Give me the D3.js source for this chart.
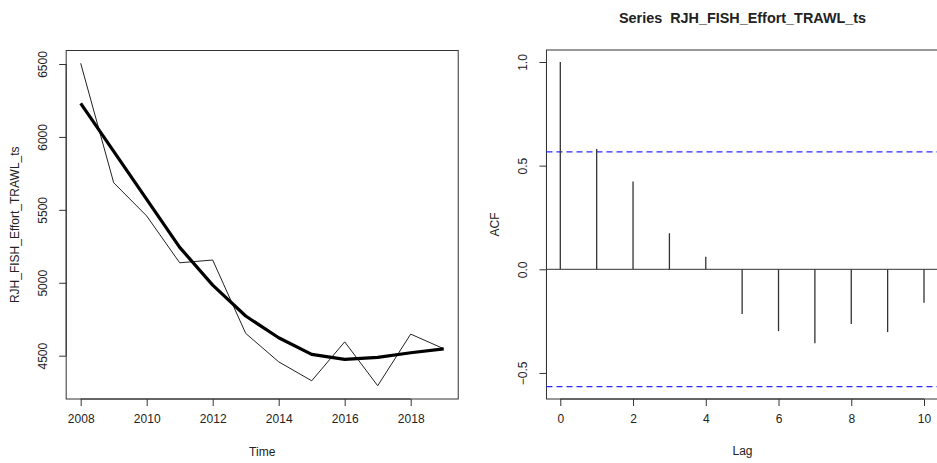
<!DOCTYPE html>
<html>
<head>
<meta charset="utf-8">
<script src="https://cdn.jsdelivr.net/npm/d3@7"></script>
<style>
  html, body { margin: 0; padding: 0; background: #fff; }
  svg { display: block; }
  text { font-family: "Liberation Sans", Arial, sans-serif; fill: #222; }
</style>
</head>
<body>
<svg id="chart" width="937" height="463"></svg>
<script>
// ---- Data ----
const years = [2008, 2009, 2010, 2011, 2012, 2013, 2014, 2015, 2016, 2017, 2018, 2019];
const effort = [6505, 5686, 5458, 5137, 5156, 4653, 4458, 4328, 4595, 4294, 4648, 4548];
const smoothed = [6230, 5901, 5572, 5243, 4984, 4772, 4623, 4509, 4475, 4488, 4520, 4547];
const yearTicks = [2008, 2010, 2012, 2014, 2016, 2018];
const effortTicks = [4500, 5000, 5500, 6000, 6500];

const lags = [0, 1, 2, 3, 4, 5, 6, 7, 8, 9, 10];
const acfValues = [1.0, 0.580, 0.423, 0.174, 0.061, -0.216, -0.298, -0.357, -0.264, -0.303, -0.161];
const ciLevel = 0.566;
const lagTicks = [0, 2, 4, 6, 8, 10];
const acfTicks = [-0.5, 0.0, 0.5, 1.0];

const seriesName = "RJH_FISH_Effort_TRAWL_ts";

const svg = d3.select("#chart");
const frameColor = "#333";

// ---- Left panel: time series + smoother ----
const x1 = d3.scaleLinear().domain([2008, 2019]).range([80.7, 443.7]);
const y1 = d3.scaleLinear().domain([4500, 6500]).range([355.7, 64]);
const L = { left: x1(2008 - 0.44), right: x1(2019 + 0.44), top: 50.5, bottom: 399 };

const g1 = svg.append("g");
g1.append("rect")
  .attr("x", L.left).attr("y", L.top)
  .attr("width", L.right - L.left).attr("height", L.bottom - L.top)
  .attr("fill", "none").attr("stroke", frameColor).attr("stroke-width", 1);

const xAxis1 = d3.axisBottom(x1).tickValues(yearTicks).tickFormat(d3.format("d"))
  .tickSize(7).tickPadding(8).tickSizeOuter(0);
const gx1 = g1.append("g").attr("transform", `translate(0,${L.bottom})`).call(xAxis1);
gx1.select(".domain").attr("d", `M${x1(yearTicks[0])},0H${x1(yearTicks[yearTicks.length-1])}`).attr("stroke", frameColor);
gx1.selectAll(".tick line").attr("stroke", frameColor);
gx1.selectAll(".tick text").attr("font-size", 12).attr("font-family", "Liberation Sans, Arial, sans-serif").attr("fill", "#222");

const yAxis1 = d3.axisLeft(y1).tickValues(effortTicks).tickFormat(d3.format("d"))
  .tickSize(7).tickSizeOuter(0);
const gy1 = g1.append("g").attr("transform", `translate(${L.left},0)`).call(yAxis1);
gy1.select(".domain").attr("d", `M0,${y1(effortTicks[0])}V${y1(effortTicks[effortTicks.length-1])}`).attr("stroke", frameColor);
gy1.selectAll(".tick line").attr("stroke", frameColor);
gy1.selectAll(".tick text")
  .attr("font-size", 12).attr("font-family", "Liberation Sans, Arial, sans-serif").attr("fill", "#222")
  .attr("x", 0).attr("dy", null).attr("text-anchor", "middle")
  .attr("transform", "translate(-19,0) rotate(-90)");

const line1 = d3.line().x((d, i) => x1(years[i])).y(d => y1(d));
g1.append("path").datum(effort)
  .attr("d", line1).attr("fill", "none").attr("stroke", "#222").attr("stroke-width", 1);
g1.append("path").datum(smoothed)
  .attr("d", line1).attr("fill", "none").attr("stroke", "#000").attr("stroke-width", 3.2)
  .attr("stroke-linejoin", "round");

g1.append("text").text("Time")
  .attr("x", (L.left + L.right) / 2).attr("y", 456).attr("text-anchor", "middle").attr("font-size", 12);
g1.append("text").text(seriesName)
  .attr("transform", `translate(19,${(L.top + L.bottom) / 2}) rotate(-90)`)
  .attr("text-anchor", "middle").attr("font-size", 12);

// ---- Right panel: ACF ----
const x2 = d3.scaleLinear().domain([0, 10]).range([560.3, 924]);
const y2 = d3.scaleLinear().domain([0, 1]).range([269.3, 62]);
const R = { left: x2(-0.38), right: x2(10.4), top: 50, bottom: 399 };

const g2 = svg.append("g");
g2.append("rect")
  .attr("x", R.left).attr("y", R.top)
  .attr("width", R.right - R.left).attr("height", R.bottom - R.top)
  .attr("fill", "none").attr("stroke", frameColor).attr("stroke-width", 1);

const xAxis2 = d3.axisBottom(x2).tickValues(lagTicks).tickFormat(d3.format("d"))
  .tickSize(7).tickPadding(8).tickSizeOuter(0);
const gx2 = g2.append("g").attr("transform", `translate(0,${R.bottom})`).call(xAxis2);
gx2.select(".domain").attr("d", `M${x2(lagTicks[0])},0H${x2(lagTicks[lagTicks.length-1])}`).attr("stroke", frameColor);
gx2.selectAll(".tick line").attr("stroke", frameColor);
gx2.selectAll(".tick text").attr("font-size", 12).attr("font-family", "Liberation Sans, Arial, sans-serif").attr("fill", "#222");

const yAxis2 = d3.axisLeft(y2).tickValues(acfTicks).tickFormat(d3.format(".1f"))
  .tickSize(7).tickSizeOuter(0);
const gy2 = g2.append("g").attr("transform", `translate(${R.left},0)`).call(yAxis2);
gy2.select(".domain").attr("d", `M0,${y2(acfTicks[0])}V${y2(acfTicks[acfTicks.length-1])}`).attr("stroke", frameColor);
gy2.selectAll(".tick line").attr("stroke", frameColor);
gy2.selectAll(".tick text")
  .attr("font-size", 12).attr("font-family", "Liberation Sans, Arial, sans-serif").attr("fill", "#222")
  .attr("x", 0).attr("dy", null).attr("text-anchor", "middle")
  .attr("transform", "translate(-19,0) rotate(-90)");

// zero line
g2.append("line")
  .attr("x1", R.left).attr("x2", R.right)
  .attr("y1", y2(0)).attr("y2", y2(0))
  .attr("stroke", frameColor).attr("stroke-width", 1);

// confidence bounds
[ciLevel, -ciLevel].forEach(v => {
  g2.append("line")
    .attr("x1", R.left).attr("x2", R.right)
    .attr("y1", y2(v)).attr("y2", y2(v))
    .attr("stroke", "#2b2bff").attr("stroke-width", 1.2)
    .attr("stroke-dasharray", "6,4");
});

// spikes
g2.selectAll("line.spike").data(acfValues).enter().append("line")
  .attr("class", "spike")
  .attr("x1", (d, i) => x2(lags[i])).attr("x2", (d, i) => x2(lags[i]))
  .attr("y1", y2(0)).attr("y2", d => y2(d))
  .attr("stroke", "#333").attr("stroke-width", 1.3);

g2.append("text").text("Lag")
  .attr("x", (R.left + R.right) / 2).attr("y", 455).attr("text-anchor", "middle").attr("font-size", 12);
g2.append("text").text("ACF")
  .attr("transform", `translate(499,${(R.top + R.bottom) / 2}) rotate(-90)`)
  .attr("text-anchor", "middle").attr("font-size", 12);
g2.append("text").text("Series  " + seriesName)
  .attr("x", (R.left + R.right) / 2).attr("y", 23).attr("text-anchor", "middle")
  .attr("font-size", 14.4).attr("font-weight", "bold").attr("xml:space", "preserve")
  .style("white-space", "pre");
</script>
</body>
</html>
